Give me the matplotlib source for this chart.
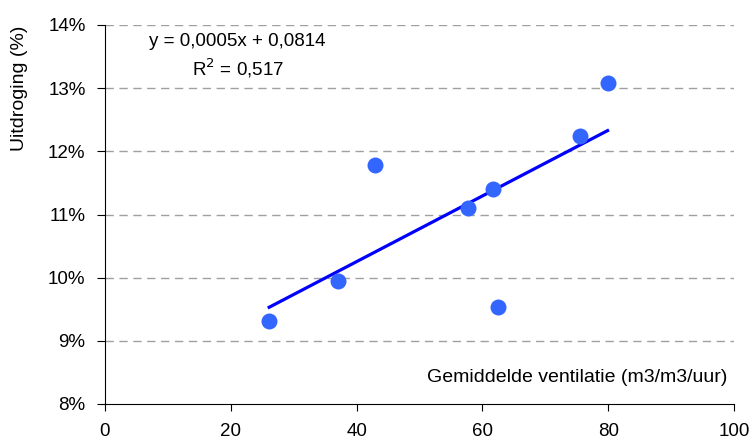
import numpy as np
import matplotlib
matplotlib.use("Agg")
import matplotlib.pyplot as plt
from matplotlib.ticker import FuncFormatter

plt.rcParams['font.family'] = ['Liberation Sans', 'DejaVu Sans']

# ventilation (m3/m3/uur) and drying (%)
ventilatie = [26.1, 37.0, 42.9, 57.7, 61.7, 62.5, 75.5, 79.9]
uitdroging = [9.31, 9.95, 11.79, 11.11, 11.41, 9.54, 12.25, 13.08]

x_ticks = [0, 20, 40, 60, 80, 100]
y_ticks = [8, 9, 10, 11, 12, 13, 14]

vergelijking = "y = 0,0005x + 0,0814"
r_kwadraat = "0,517"

x = np.array(ventilatie)
y = np.array(uitdroging) / 100.0

# linear trend line (least squares)
slope, intercept = np.polyfit(x, y, 1)
xl = np.array([x.min(), x.max()])

fig = plt.figure(figsize=(7.56, 4.41), dpi=100)
ax = fig.add_axes([105/756, 37/441, 629/756, 379/441])

for t in y_ticks[1:]:
    ax.axhline(t / 100.0, color='#a0a0a0', lw=1.0, dashes=(6, 4), zorder=0)

ax.plot(xl, slope * xl + intercept, color='#0000ff', lw=2.3, zorder=2)
ax.plot(x, y, 'o', color='#3366ff', markersize=11.5, markeredgewidth=0, zorder=3)

ax.set_xlim(0, 100)
ax.set_ylim(0.08, 0.14)
ax.set_xticks(x_ticks)
ax.set_yticks([t / 100.0 for t in y_ticks])
ax.yaxis.set_major_formatter(FuncFormatter(lambda v, p: "%d%%" % round(v * 100)))

ax.spines['top'].set_visible(False)
ax.spines['right'].set_visible(False)
ax.tick_params(axis='x', direction='out', length=5, pad=9, labelsize=13.5)
ax.tick_params(axis='y', direction='out', length=6, pad=8, labelsize=13.5)

ax.text(622/629, (404-378)/379, "Gemiddelde ventilatie (m3/m3/uur)",
        transform=ax.transAxes, ha='right', va='center', fontsize=14)
fig.text(20/756, 1 - 88/441, "Uitdroging (%)", rotation=90, ha='center', va='center',
         fontsize=14)

fig.text(237/756, 1 - 41/441, vergelijking, ha='center', va='center', fontsize=13.5)
fig.text(238/756, 1 - 68/441, "R$^2$ = " + r_kwadraat,
         ha='center', va='center', fontsize=13.5)

fig.savefig("out.png", dpi=100)
